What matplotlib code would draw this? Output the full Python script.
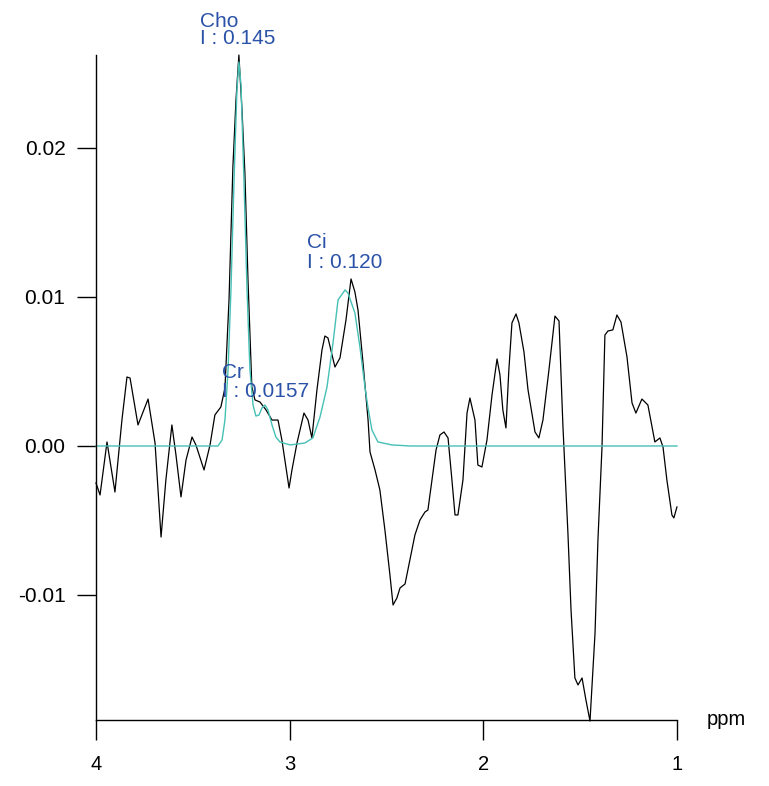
import matplotlib
matplotlib.use("Agg")
import matplotlib.pyplot as plt
import numpy as np

plt.rcParams['font.family'] = ['Liberation Sans', 'DejaVu Sans']
plt.rcParams['axes.unicode_minus'] = False

# measured spectrum (black), ppm / amplitude
ppm = [4.000, 3.979, 3.943, 3.902, 3.866, 3.840, 3.824, 3.783, 3.757, 3.731,
       3.695, 3.664, 3.639, 3.608, 3.587, 3.561, 3.535, 3.504, 3.484, 3.442,
       3.411, 3.386, 3.355, 3.334, 3.313, 3.293, 3.277, 3.262, 3.246, 3.231,
       3.215, 3.195, 3.179, 3.153, 3.122, 3.091, 3.060, 3.040, 3.003, 2.988,
       2.962, 2.926, 2.905, 2.885, 2.859, 2.833, 2.818, 2.802, 2.766, 2.740,
       2.709, 2.683, 2.663, 2.647, 2.621, 2.595, 2.585, 2.559, 2.534, 2.508,
       2.482, 2.466, 2.446, 2.430, 2.404, 2.379, 2.353, 2.327, 2.301, 2.286,
       2.265, 2.244, 2.224, 2.203, 2.182, 2.162, 2.146, 2.131, 2.105, 2.084,
       2.069, 2.043, 2.028, 2.007, 1.981, 1.955, 1.929, 1.914, 1.899, 1.883,
       1.868, 1.852, 1.831, 1.816, 1.790, 1.769, 1.733, 1.713, 1.692, 1.661,
       1.630, 1.609, 1.589, 1.563, 1.547, 1.527, 1.511, 1.490, 1.470, 1.449,
       1.423, 1.408, 1.387, 1.372, 1.356, 1.331, 1.310, 1.289, 1.258, 1.232,
       1.212, 1.181, 1.150, 1.114, 1.088, 1.072, 1.052, 1.026, 1.016, 1.000]
signal = [-0.00248, -0.00329, 0.00027, -0.00309, 0.00174, 0.00463, 0.00456, 0.00141, 0.00228, 0.00315,
          0.00020, -0.00611, -0.00228, 0.00141, -0.00060, -0.00342, -0.00094, 0.00060, 0.00007, -0.00161,
          0.00007, 0.00208, 0.00262, 0.00389, 0.00980, 0.01872, 0.02322, 0.02624, 0.02255, 0.01832,
          0.01114, 0.00396, 0.00309, 0.00295, 0.00242, 0.00174, 0.00174, 0.00040, -0.00282, -0.00161,
          0.00020, 0.00221, 0.00174, 0.00054, 0.00376, 0.00644, 0.00738, 0.00725, 0.00530, 0.00591,
          0.00846, 0.01121, 0.01034, 0.00913, 0.00557, 0.00174, -0.00040, -0.00161, -0.00295, -0.00564,
          -0.00866, -0.01067, -0.01020, -0.00953, -0.00926, -0.00765, -0.00597, -0.00497, -0.00443, -0.00430,
          -0.00228, -0.00027, 0.00074, 0.00094, 0.00054, -0.00228, -0.00463, -0.00463, -0.00228, 0.00221,
          0.00322, 0.00174, -0.00128, -0.00141, 0.00040, 0.00342, 0.00584, 0.00477, 0.00242, 0.00121,
          0.00510, 0.00826, 0.00886, 0.00826, 0.00631, 0.00376, 0.00094, 0.00054, 0.00174, 0.00510,
          0.00872, 0.00839, 0.00141, -0.00584, -0.01101, -0.01557, -0.01604, -0.01557, -0.01705, -0.01846,
          -0.01255, -0.00631, -0.00007, 0.00745, 0.00772, 0.00779, 0.00879, 0.00832, 0.00597, 0.00289,
          0.00221, 0.00315, 0.00275, 0.00027, 0.00054, -0.00007, -0.00228, -0.00463, -0.00483, -0.00409]

# fitted curve (cyan)
fit_ppm = [4.000, 3.370, 3.349, 3.334, 3.318, 3.303, 3.287, 3.272, 3.262, 3.251,
           3.236, 3.220, 3.205, 3.189, 3.174, 3.158, 3.143, 3.127, 3.112, 3.091,
           3.071, 3.050, 2.998, 2.921, 2.880, 2.843, 2.807, 2.776, 2.750, 2.714,
           2.699, 2.663, 2.637, 2.611, 2.596, 2.575, 2.544, 2.472, 2.379, 1.000]
fit_val = [0.0, 0.0, 0.00040, 0.00174, 0.00510, 0.01047, 0.01785, 0.02389, 0.02577, 0.02423,
           0.01785, 0.01047, 0.00510, 0.00275, 0.00201, 0.00208, 0.00255, 0.00275, 0.00242, 0.00141,
           0.00060, 0.00027, 0.00007, 0.00020, 0.00054, 0.00195, 0.00396, 0.00691, 0.00980, 0.01047,
           0.01027, 0.00893, 0.00664, 0.00396, 0.00262, 0.00107, 0.00027, 0.00007, 0.0, 0.0]

# peak labels: name, integral text, ppm, baseline of first / second line
peak_names = ['Cho', 'Ci', 'Cr']
peak_int = ['I : 0.145', 'I : 0.120', 'I : 0.0157']
label_x = [3.463, 2.912, 3.351]
label_y1 = [0.02812, 0.01329, 0.00456]
label_y2 = [0.02695, 0.01195, 0.00329]

fig = plt.figure(figsize=(7.69, 7.86), dpi=100)
ax = fig.add_axes([0.1248, 0.0840, 0.7555, 0.8460])

ax.plot(ppm, signal, color='black', lw=0.9, clip_on=False)
ax.plot(fit_ppm, fit_val, color='#45c0b5', lw=1.0, clip_on=False)

blue = '#2a52a8'
for i in range(len(peak_names)):
    ax.text(label_x[i], label_y1[i], peak_names[i], color=blue, fontsize=15,
            ha='left', va='baseline', clip_on=False)
    ax.text(label_x[i], label_y2[i], peak_int[i], color=blue, fontsize=15,
            ha='left', va='baseline', clip_on=False)

ax.set_xlim(4, 1)
ax.set_ylim(-0.01839, 0.02624)
ax.set_xticks([4, 3, 2, 1])
ax.set_xticklabels(['4', '3', '2', '1'])
ax.set_yticks([-0.01, 0.0, 0.01, 0.02])
ax.set_yticklabels(['-0.01', '0.00', '0.01', '0.02'])

ax.spines['top'].set_visible(False)
ax.spines['right'].set_visible(False)
for s in ['left', 'bottom']:
    ax.spines[s].set_linewidth(1.0)
ax.tick_params(axis='x', direction='out', length=14.5, width=1.0, pad=11, labelsize=14.5)
ax.tick_params(axis='y', direction='out', length=14, width=1.0, pad=8, labelsize=15)

ax.text(1.052, 0.0, 'ppm', transform=ax.transAxes, ha='left', va='center', fontsize=14.5)

fig.savefig('out.png', dpi=100)
